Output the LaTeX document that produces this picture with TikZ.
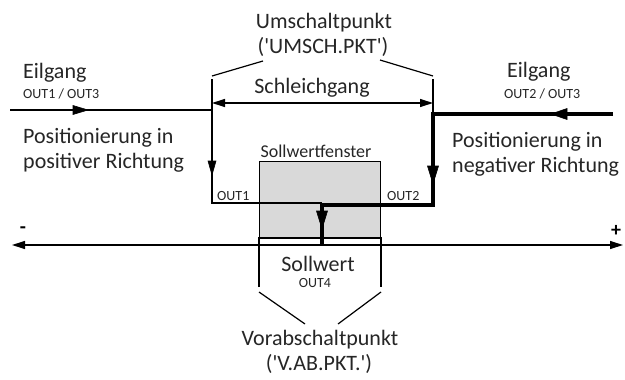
\documentclass[tikz,border=0pt]{standalone}
\usepackage{fontspec}
\setmainfont{Carlito}
\usetikzlibrary{arrows.meta}
\newcommand{\sq}{\textquotesingle}
\begin{document}
\begin{tikzpicture}[x=1pt,y=-1pt,
  wire/.style={line width=1.2pt},
  heavy/.style={line width=4.4pt, line join=miter},
  boththin/.style={{Triangle[length=13pt,width=8pt]}-{Triangle[length=13pt,width=8pt]}},
  head/.style={fill=black, draw=black, line width=0.6pt, line join=miter},
  lbl/.style={inner sep=0pt, text=black!85, font=\fontsize{22}{26}\selectfont},
  tag/.style={inner sep=0pt, text=black!85, font=\fontsize{14}{16}\selectfont},
  winlbl/.style={inner sep=0pt, text=black!85, font=\fontsize{18}{21}\selectfont},
  sign/.style={inner sep=0pt, font=\bfseries\fontsize{20}{22}\selectfont},
  window/.style={draw, line width=1.2pt, fill=black!15}]

\path[use as bounding box, fill=white] (0,0) rectangle (625,380);

% setpoint window
\node[window, minimum width=121pt, minimum height=77pt, anchor=north west] (win) at (259,161) {};
\node[winlbl, anchor=base] (winname) at (316,157) {Sollwertfenster};

% position axis
\coordinate (axL) at (12,245);
\coordinate (axR) at (623,245);
\draw[wire, boththin] (axL) -- (axR);
\node[sign] (minus) at (23,230) {-};
\node[sign] (plus) at (616,231) {+};

% positive direction: rapid then creep speed
\coordinate (posStart) at (10,110);
\coordinate (cornerL) at (212,110);
\coordinate (dropL) at (212,203);
\coordinate (joinL) at (322,203);
\coordinate (posHead) at (88,110);
\coordinate (posHeadB) at (212,175);
\draw[wire] (posStart) -- (cornerL) -- (dropL) -- (joinL);
\filldraw[head] (posHead) -- ++(-15,-4.5) -- ++(0,9) -- cycle;
\filldraw[head] (posHeadB) -- ++(-4,-14) -- ++(8,0) -- cycle;

% negative direction: rapid then creep speed
\coordinate (negStart) at (613,114);
\coordinate (cornerR) at (433,114);
\coordinate (dropR) at (433,205);
\coordinate (target) at (322,205);
\coordinate (axisHit) at (322,245);
\coordinate (negHead) at (551,114);
\coordinate (negHeadB) at (433,184);
\coordinate (negHeadC) at (322,229);
\draw[heavy] (negStart) -- (cornerR) -- (dropR) -- (target) -- (axisHit);
\filldraw[head] (negHead) -- ++(16,-5.5) -- ++(0,11) -- cycle;
\filldraw[head] (negHeadB) -- ++(-5.5,-18) -- ++(11,0) -- cycle;
\filldraw[head] (negHeadC) -- ++(-5.5,-18) -- ++(11,0) -- cycle;

% switch-over point bracket
\coordinate (umL) at (212,79);
\coordinate (umR) at (433,79);
\coordinate (umLs) at (212,76);
\coordinate (umLe) at (263,61);
\coordinate (umRs) at (433,76);
\coordinate (umRe) at (380,60);
\draw[wire] (umL) -- (cornerL);
\draw[wire] (umR) -- (cornerR);
\draw[wire] (umLs) -- (umLe);
\draw[wire] (umRs) -- (umRe);
\node[lbl, anchor=base] (umname) at (324,28) {Umschaltpunkt};
\node[lbl, anchor=base] (umcode) at (323,53) {(\sq UMSCH.PKT\sq)};

% creep range
\coordinate (sgL) at (212,103);
\coordinate (sgR) at (433,103);
\draw[wire, boththin] (sgL) -- (sgR);
\node[lbl, anchor=base] (sgname) at (312,93) {Schleichgang};

% pre-cutoff point bracket
\coordinate (vaL) at (259,287);
\coordinate (vaLt) at (259,238);
\coordinate (vaRt) at (381,238);
\coordinate (vaR) at (381,287);
\coordinate (vaLs) at (259,292);
\coordinate (vaLe) at (305,324);
\coordinate (vaRs) at (381,292);
\coordinate (vaRe) at (338,324);
\draw[wire] (vaL) -- (vaLt) -- (vaRt) -- (vaR);
\draw[wire] (vaLs) -- (vaLe);
\draw[wire] (vaRs) -- (vaRe);
\node[lbl, anchor=base] (vaname) at (320,345) {Vorabschaltpunkt};
\node[lbl, anchor=base] (vacode) at (319,370) {(\sq V.AB.PKT.\sq)};

% setpoint
\node[lbl, anchor=base] (soll) at (318,271) {Sollwert};
\node[tag, anchor=base] (out4) at (315,287) {OUT4};

% output tags
\node[tag, anchor=base west] (out1) at (217,200) {OUT1};
\node[tag, anchor=base west] (out2) at (387,200) {OUT2};

% left side texts
\node[lbl, anchor=base west] (eilL) at (23,78) {Eilgang};
\node[tag, anchor=base west] (outL) at (23,98) {OUT1 / OUT3};
\node[lbl, anchor=base west] (posL1) at (23,143) {Positionierung in};
\node[lbl, anchor=base west] (posL2) at (23,168) {positiver Richtung};

% right side texts
\node[lbl, anchor=base west] (eilR) at (507,77) {Eilgang};
\node[tag, anchor=base west] (outR) at (504,98) {OUT2 / OUT3};
\node[lbl, anchor=base west] (posR1) at (452,147) {Positionierung in};
\node[lbl, anchor=base west] (posR2) at (452,172) {negativer Richtung};
\end{tikzpicture}
\end{document}
